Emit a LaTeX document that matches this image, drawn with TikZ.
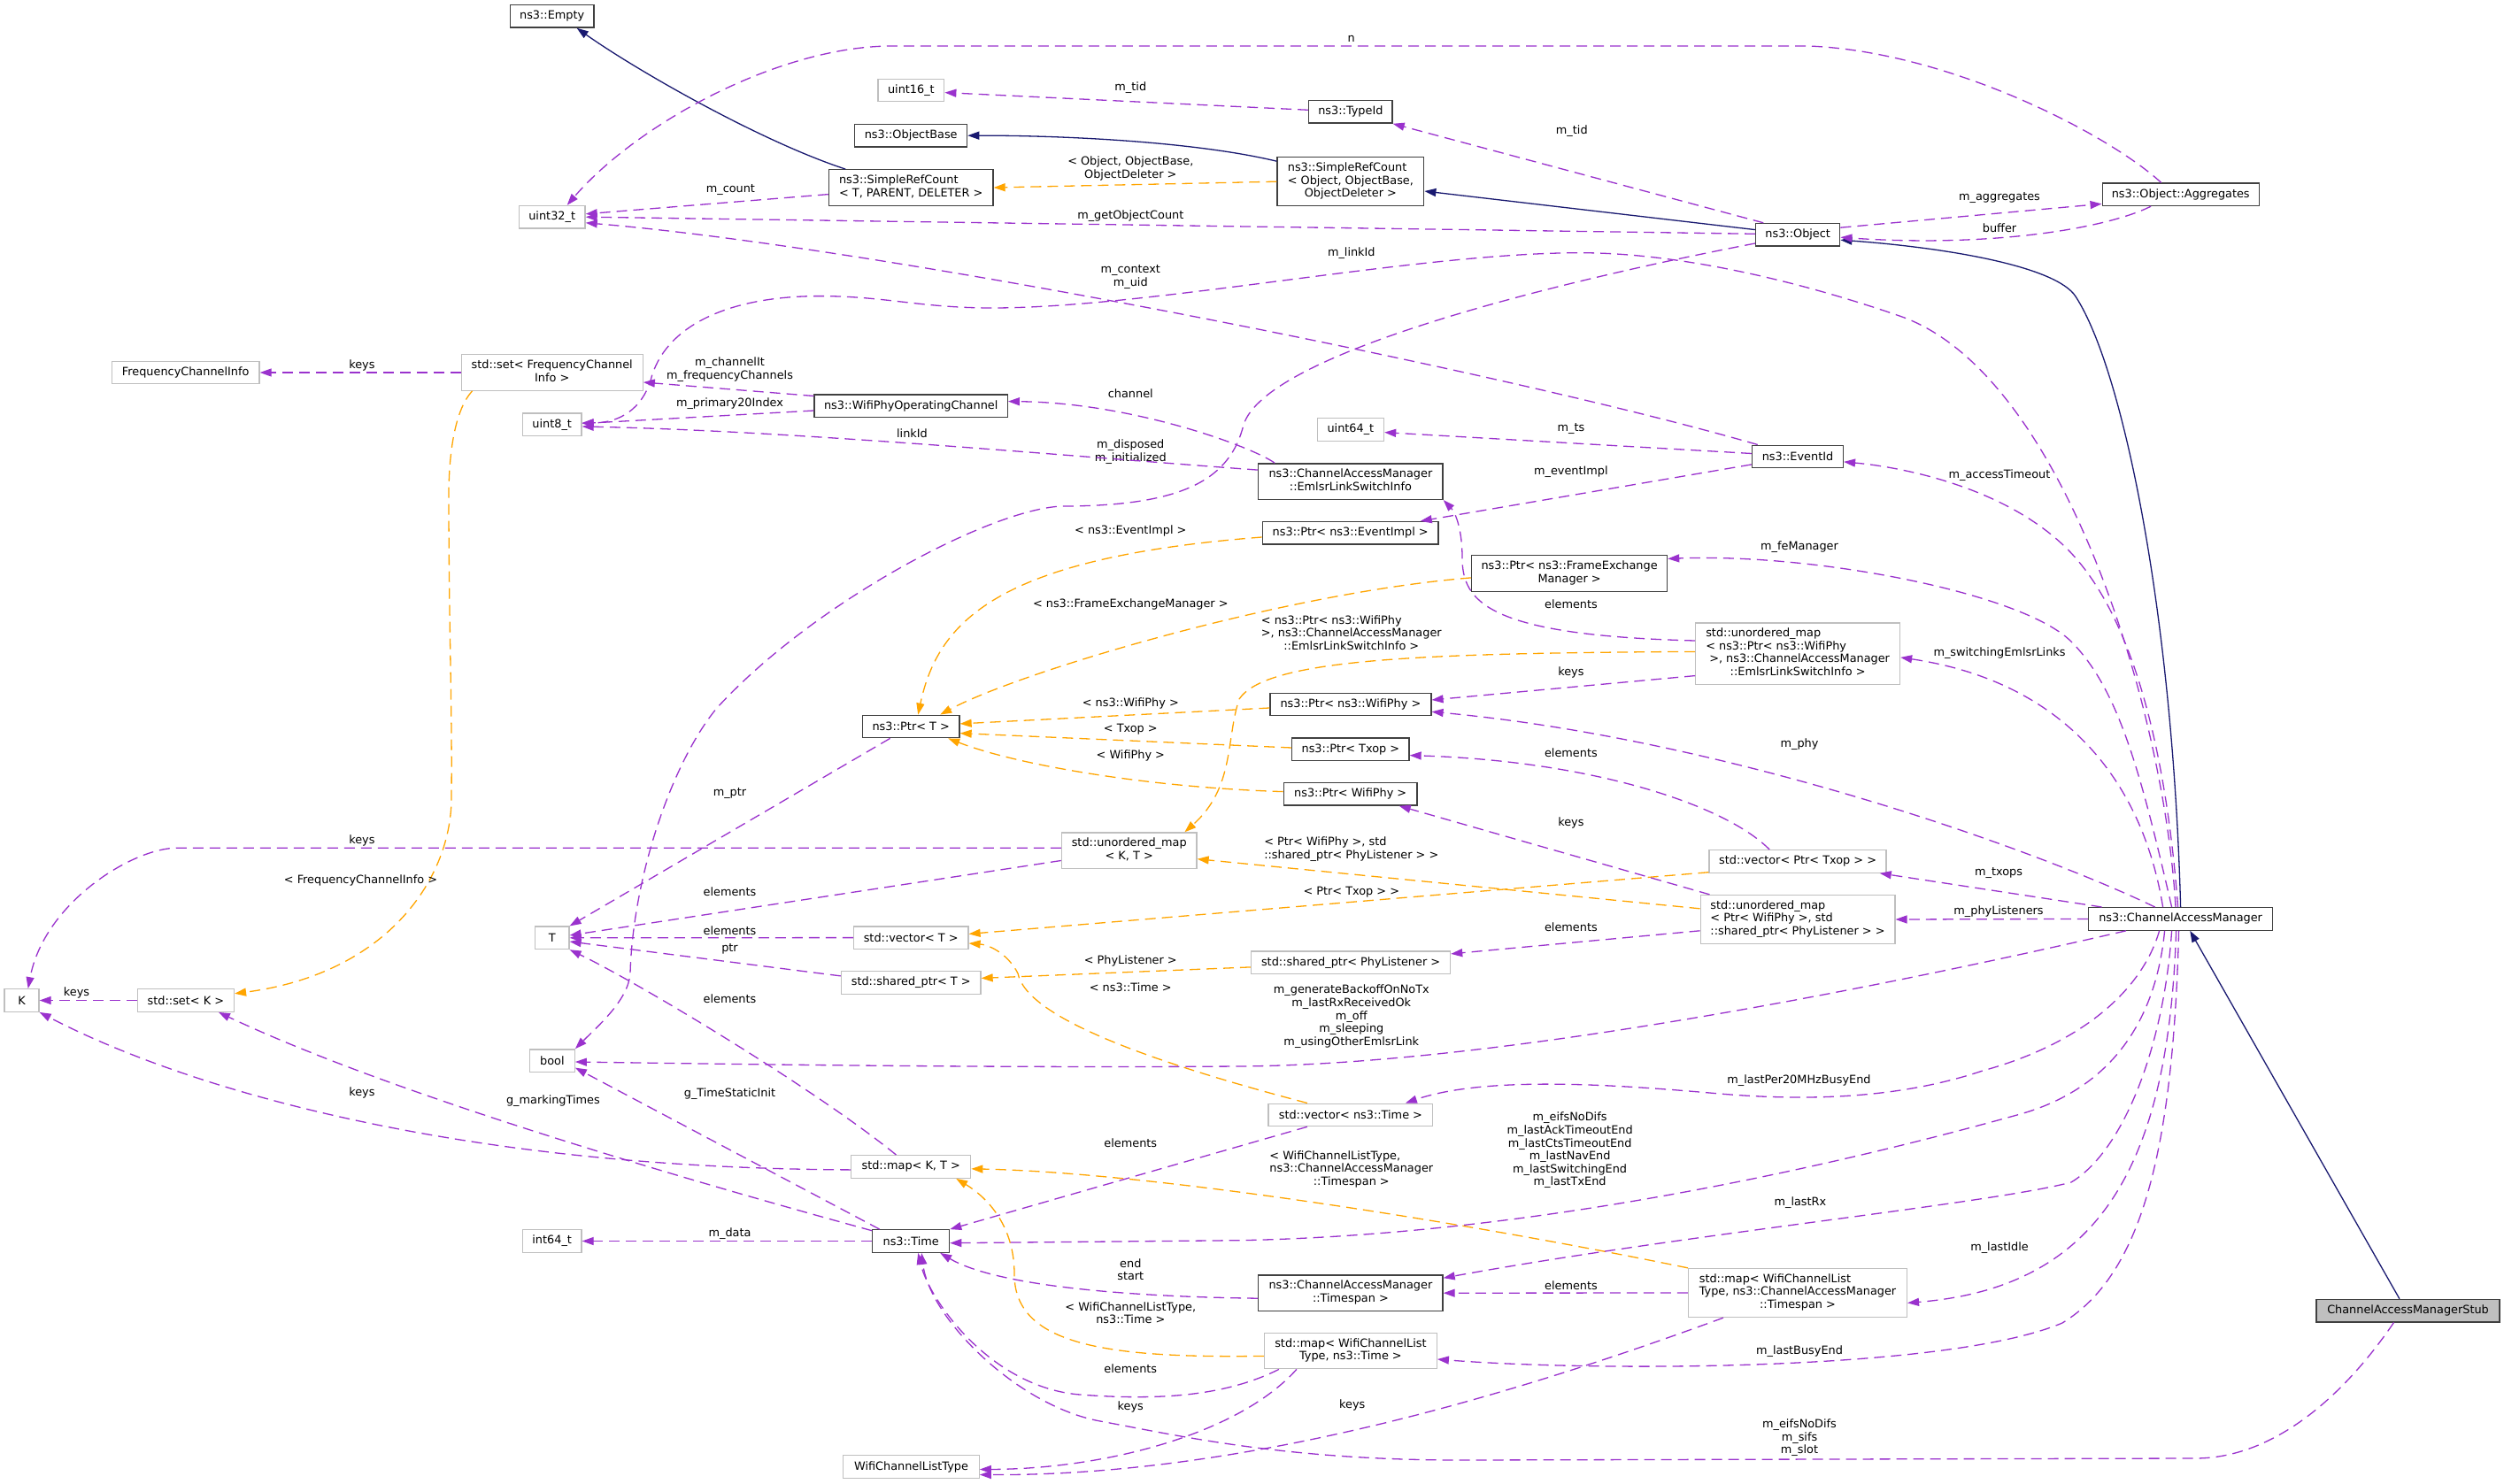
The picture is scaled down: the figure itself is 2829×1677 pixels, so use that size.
\documentclass[tikz,border=0pt]{standalone}
\usepackage{fontspec}
\setmainfont{DejaVu Sans}
\usetikzlibrary{arrows.meta}
\definecolor{purp}{HTML}{9A32CD}
\definecolor{orng}{HTML}{FFA500}
\definecolor{navyc}{HTML}{191970}
\definecolor{boxdark}{HTML}{404040}
\definecolor{boxlight}{HTML}{BFBFBF}
\newcommand\dvf{\fontsize{12.85pt}{14.6pt}\selectfont}
\newcommand\mylines[2]{\begin{tabular}{@{}l@{}}#1\\\multicolumn{1}{@{}c@{}}{#2}\end{tabular}}
\tikzset{
  gbox/.style={draw=boxlight, line width=1.3pt, fill=white, inner sep=0pt, minimum height=25.5pt, font=\dvf, text=black},
  dbox/.style={gbox, draw=boxdark},
  stubbox/.style={gbox, draw=boxdark, fill=boxlight},
  lab/.style={font=\dvf, inner sep=0pt, align=center, text=black},
  pe/.style={draw=purp, line width=1.3pt, dash pattern=on 12pt off 7pt, -{Triangle[length=13pt,width=9pt]}},
  oe/.style={pe, draw=orng},
  ne/.style={draw=navyc, line width=1.3pt, -{Triangle[length=13pt,width=9pt]}}
}
\begin{document}
\begin{tikzpicture}[x=1pt,y=-1pt]
\fill[white] (0,0) rectangle (2829,1677);
\path[use as bounding box] (0,0) rectangle (2829,1677);
% nodes
\node[dbox, minimum width=94.6pt] (Empty) at (623.7,18.4) {ns3::Empty};
\node[gbox, minimum width=74.7pt] (u32) at (623.7,245.2) {uint32\_t};
\node[gbox, minimum width=166.7pt] (FCI) at (209.7,421) {FrequencyChannelInfo};
\node[gbox, minimum width=205pt, minimum height=40.5pt] (setFCI) at (623.7,421) {\mylines{std::set< FrequencyChannel}{Info >}};
\node[gbox, minimum width=66.6pt] (u8) at (623.7,479.8) {uint8\_t};
\node[gbox, minimum width=74.7pt] (u16) at (1029.4,102.1) {uint16\_t};
\node[dbox, minimum width=126.8pt] (ObjBase) at (1029.2,153.2) {ns3::ObjectBase};
\node[dbox, minimum width=185.6pt, minimum height=40.5pt] (SRC) at (1029.2,212) {\mylines{ns3::SimpleRefCount}{< T, PARENT, DELETER >}};
\node[dbox, minimum width=218.2pt] (WPOC) at (1029.2,458.8) {ns3::WifiPhyOperatingChannel};
\node[dbox, minimum width=94.2pt] (TypeId) at (1525.9,126.4) {ns3::TypeId};
\node[dbox, minimum width=165.7pt, minimum height=55pt] (SRCO) at (1525.9,205.2) {\mylines{ns3::SimpleRefCount\\< Object, ObjectBase,}{ObjectDeleter >}};
\node[dbox, minimum width=95.1pt] (Object) at (2031.2,265.2) {ns3::Object};
\node[gbox, minimum width=75.2pt] (u64) at (1525.9,485.4) {uint64\_t};
\node[dbox, minimum width=102.8pt] (EventId) at (2031,515.9) {ns3::EventId};
\node[dbox, minimum width=208.3pt, minimum height=40.5pt] (ELSI) at (1525.9,544.1) {\mylines{ns3::ChannelAccessManager}{::EmlsrLinkSwitchInfo}};
\node[dbox, minimum width=177.1pt] (Aggr) at (2463.7,219.8) {ns3::Object::Aggregates};
\node[dbox, minimum width=109.6pt] (PtrT) at (1029.2,821) {ns3::Ptr< T >};
\node[gbox, minimum width=152.6pt, minimum height=40.5pt] (umapKT) at (1275.7,961.2) {\mylines{std::unordered\_map}{< K, T >}};
\node[gbox, minimum width=129.5pt] (vecT) at (1029.2,1059.6) {std::vector< T >};
\node[gbox, minimum width=157.6pt] (sptrT) at (1029.2,1110.4) {std::shared\_ptr< T >};
\node[dbox, minimum width=198.8pt] (PtrEI) at (1525.7,602.3) {ns3::Ptr< ns3::EventImpl >};
\node[dbox, minimum width=221pt, minimum height=40.5pt] (PtrFEM) at (1773.1,647.9) {\mylines{ns3::Ptr< ns3::FrameExchange}{Manager >}};
\node[gbox, minimum width=230.8pt, minimum height=69.3pt] (umapE) at (2031.1,738.6) {\mylines{std::unordered\_map\\< ns3::Ptr< ns3::WifiPhy\\\hspace*{4pt}>, ns3::ChannelAccessManager}{::EmlsrLinkSwitchInfo >}};
\node[dbox, minimum width=182pt] (PtrWP) at (1525.9,795.9) {ns3::Ptr< ns3::WifiPhy >};
\node[dbox, minimum width=132.2pt] (PtrTx) at (1525.9,846.6) {ns3::Ptr< Txop >};
\node[dbox, minimum width=150.8pt] (PtrWifi) at (1525.7,897.3) {ns3::Ptr< WifiPhy >};
\node[gbox, minimum width=200pt] (vecPTx) at (2031.1,973.4) {std::vector< Ptr< Txop > >};
\node[gbox, minimum width=219.7pt, minimum height=55pt] (umapPL) at (2031,1039) {\mylines{std::unordered\_map\\< Ptr< WifiPhy >, std}{::shared\_ptr< PhyListener > >}};
\node[gbox, minimum width=225pt] (sptrPL) at (1526.1,1087.7) {std::shared\_ptr< PhyListener >};
\node[dbox, minimum width=208.3pt] (CAM) at (2463.6,1038.4) {ns3::ChannelAccessManager};
\node[gbox, minimum width=38.5pt] (T) at (623.7,1059.8) {T};
\node[gbox, minimum width=39pt] (K) at (24.5,1130.5) {K};
\node[gbox, minimum width=109.1pt] (setK) at (209.9,1130.5) {std::set< K >};
\node[gbox, minimum width=50.7pt] (bool) at (623.9,1198.6) {bool};
\node[gbox, minimum width=66.6pt] (int64) at (623.7,1402.5) {int64\_t};
\node[gbox, minimum width=135pt] (mapKT) at (1029.2,1318.4) {std::map< K, T >};
\node[dbox, minimum width=86.9pt] (Time) at (1029.2,1402.5) {ns3::Time};
\node[gbox, minimum width=153.5pt] (WCLT) at (1029.5,1657.5) {WifiChannelListType};
\node[gbox, minimum width=185.6pt] (vecTime) at (1525.9,1259.9) {std::vector< ns3::Time >};
\node[dbox, minimum width=208.3pt, minimum height=40.5pt] (Timespan) at (1525.9,1461.2) {\mylines{ns3::ChannelAccessManager}{::Timespan >}};
\node[gbox, minimum width=194.7pt, minimum height=40.5pt] (mapWT) at (1525.9,1526.5) {\mylines{std::map< WifiChannelList}{Type, ns3::Time >}};
\node[gbox, minimum width=246.8pt, minimum height=55pt] (mapWTS) at (2031,1461) {\mylines{std::map< WifiChannelList\\Type, ns3::ChannelAccessManager}{::Timespan >}};
\node[stubbox, minimum width=206.9pt] (Stub) at (2720.5,1481.1) {ChannelAccessManagerStub};

% inheritance
\draw[ne] ([xshift=-74pt]SRC.north) .. controls (860,160) and (720,80) .. ([xshift=28pt]Empty.south);
\draw[ne] ([yshift=23pt]SRCO.west) .. controls (1350,160) and (1200,153) .. (ObjBase.east);
\draw[ne] ([yshift=5.6pt]Object.west) -- ([yshift=-10.8pt]SRCO.east);
\draw[ne] (CAM.north) .. controls (2455,700) and (2400,420) .. (2345,335) .. controls (2323,301) and (2200,280) .. ([yshift=-6pt]Object.east);
\draw[ne] ([xshift=-9.6pt]Stub.north) -- ([xshift=10.6pt]CAM.south);

% template (orange)
\draw[oe] (SRCO.west) -- (SRC.east);
\node[lab] (l1) at (1277.3,191) {\mylines{< Object, ObjectBase,}{ObjectDeleter >}};
\draw[oe] ([xshift=13pt]setFCI.south west) .. controls (512,465) and (507,520) .. (507,560) .. controls (507,700) and (511,800) .. (510,900) .. controls (511,990) and (440,1100) .. ([yshift=7.7pt]setK.east);
\node[lab] (l2) at (407.5,994.6) {< FrequencyChannelInfo >};
\draw[oe] ([yshift=-4.7pt]PtrEI.west) .. controls (1130,630) and (1060,700) .. ([xshift=8pt]PtrT.north);
\node[lab] (l3) at (1277.3,600) {< ns3::EventImpl >};
\draw[oe] ([yshift=-5pt]PtrFEM.west) .. controls (1450,670) and (1150,760) .. ([xshift=33pt]PtrT.north);
\node[lab] (l4) at (1277.3,683.2) {< ns3::FrameExchangeManager >};
\draw[oe] ([yshift=2.2pt]umapE.west) .. controls (1600,738) and (1430,745) .. (1400,790) .. controls (1385,835) and (1395,890) .. ([xshift=62.7pt]umapKT.north);
\node[lab] (l5) at (1526.8,717) {\mylines{< ns3::Ptr< ns3::WifiPhy\\>, ns3::ChannelAccessManager}{::EmlsrLinkSwitchInfo >}};
\draw[oe] ([yshift=-4.1pt]PtrWP.west) -- ([yshift=3.1pt]PtrT.east);
\node[lab] (l6) at (1277.3,794.6) {< ns3::WifiPhy >};
\draw[oe] ([yshift=1.6pt]PtrTx.west) -- ([yshift=-7.6pt]PtrT.east);
\node[lab] (l7) at (1277.3,824.3) {< Txop >};
\draw[oe] ([yshift=2.7pt]PtrWifi.west) .. controls (1300,890) and (1150,865) .. ([xshift=42pt]PtrT.south);
\node[lab] (l8) at (1277.3,854.3) {< WifiPhy >};
\draw[oe] ([yshift=12.2pt]umapPL.west) -- ([yshift=-9.5pt]umapKT.east);
\node[lab] (l9) at (1526.8,959.8) {\mylines{< Ptr< WifiPhy >, std}{::shared\_ptr< PhyListener > >}};
\draw[oe] ([yshift=-12.3pt]vecPTx.west) -- ([yshift=4.2pt]vecT.east);
\node[lab] (l10) at (1526.8,1008.2) {< Ptr< Txop > >};
\draw[oe] ([yshift=-5.2pt]sptrPL.west) -- ([yshift=5pt]sptrT.east);
\node[lab] (l11) at (1277.3,1086.4) {< PhyListener >};
\draw[oe] ([xshift=-49pt]vecTime.north) .. controls (1300,1200) and (1160,1150) .. (1150,1100) .. controls (1140,1080) and (1120,1068) .. ([yshift=-6.4pt]vecT.east);
\node[lab] (l12) at (1277.3,1115.5) {< ns3::Time >};
\draw[oe] (mapWTS.north west) .. controls (1650,1380) and (1300,1325) .. ([yshift=-2.4pt]mapKT.east);
\node[lab] (l13) at (1526.8,1322) {\mylines{< WifiChannelListType,\\ns3::ChannelAccessManager}{::Timespan >}};
\draw[oe] ([yshift=-5.9pt]mapWT.west) .. controls (1250,1535) and (1146,1520) .. (1146,1440) .. controls (1146,1380) and (1110,1350) .. ([xshift=51pt]mapKT.south);
\node[lab] (l14) at (1277.3,1485.5) {\mylines{< WifiChannelListType,}{ns3::Time >}};

% members (purple)
\draw[pe] ([xshift=-22pt]Aggr.north) .. controls (2380,150) and (2200,58) .. (2043,52) -- (1008,52) .. controls (880,52) and (720,140) .. ([xshift=17pt]u32.north);
\node[lab] (m1) at (1526.8,43.9) {n};
\draw[pe] ([yshift=-7.6pt]SRC.west) -- ([yshift=3.4pt]u32.east);
\node[lab] (m2) at (825.4,214.6) {m\_count};
\draw[pe] ([yshift=0.9pt]Object.west) -- (u32.east);
\node[lab] (m3) at (1277.3,243.9) {m\_getObjectCount};
\draw[pe] ([xshift=6.8pt]EventId.north west) .. controls (1700,420) and (1000,280) .. ([yshift=-6.6pt]u32.east);
\node[lab] (m4) at (1277.3,313) {m\_context\\m\_uid};
\draw[pe] ([xshift=-5.6pt]CAM.north) .. controls (2445,800) and (2330,420) .. (2146,357) .. controls (2036,319) and (1900,285.7) .. (1785,285.7) .. controls (1600,285.7) and (1300,348) .. (1121,348) .. controls (1040,348) and (1000,334.6) .. (926,334.6) .. controls (820,334.6) and (750,370) .. (735,430) .. controls (725,462) and (700,478) .. ([yshift=2pt]u8.east);
\node[lab] (m5) at (1526.8,285.7) {m\_linkId};
\draw[pe] ([xshift=-61.6pt]CAM.south) .. controls (2150,1110) and (1700,1203) .. (1400,1205) .. controls (1100,1207) and (800,1202) .. ([yshift=-1.4pt]bool.east);
\node[lab] (m6) at (1526.8,1148.7) {m\_generateBackoffOnNoTx\\m\_lastRxReceivedOk\\m\_off\\m\_sleeping\\m\_usingOtherEmlsrLink};
\draw[pe] ([yshift=-9.8pt]Object.west) .. controls (1750,320) and (1430,400) .. (1405,480) .. controls (1390,540) and (1340,572) .. (1200,572) .. controls (1120,575) and (920,680) .. (810,800) .. controls (760,860) and (715,990) .. (712,1100) .. controls (710,1130) and (675,1160) .. (bool.north east);
\node[lab] (m7) at (1277.3,510.5) {m\_disposed\\m\_initialized};
\draw[pe] ([yshift=13pt]ELSI.west) .. controls (1200,515) and (900,487) .. ([yshift=-2.2pt]u8.east);
\node[lab] (m8) at (1030.5,489.3) {linkId};
\draw[pe] ([xshift=19pt]ELSI.north west) .. controls (1415,505) and (1280,455) .. ([yshift=5.2pt]WPOC.east);
\node[lab] (m9) at (1277.3,444.6) {channel};
\draw[pe] ([yshift=-5.2pt]WPOC.west) -- ([yshift=1.2pt]u8.east);
\node[lab] (m10) at (824.5,456.4) {m\_primary20Index};
\draw[pe] ([yshift=11.3pt]WPOC.west) -- ([yshift=-11pt]setFCI.east);
\node[lab] (m11) at (824.5,417.9) {m\_channelIt\\m\_frequencyChannels};
\draw[pe] (setFCI.west) -- (FCI.east);
\node[lab] (m12) at (408.9,412.5) {keys};
\draw[pe] ([yshift=3pt]umapKT.west) -- (200,958.2) .. controls (150,958.2) and (50,1020) .. ([xshift=7.2pt]K.north);
\node[lab] (m13) at (408.9,950) {keys};
\draw[pe] (setK.west) -- (K.east);
\node[lab] (m14) at (86.5,1122) {keys};
\draw[pe] ([yshift=-3.5pt]mapKT.west) .. controls (500,1320) and (200,1225) .. (K.south east);
\node[lab] (m15) at (408.9,1235.4) {keys};
\draw[pe] ([yshift=11.8pt]Time.west) .. controls (800,1340) and (450,1240) .. ([xshift=37pt]setK.south);
\node[lab] (m16) at (624.9,1244.6) {g\_markingTimes};
\draw[pe] ([xshift=8.6pt]Time.north west) -- ([yshift=-8pt]bool.east);
\node[lab] (m17) at (824.5,1236.5) {g\_TimeStaticInit};
\draw[pe] ([xshift=-16.8pt]mapKT.north) .. controls (920,1230) and (720,1110) .. (T.south east);
\node[lab] (m18) at (824.5,1128.7) {elements};
\draw[pe] ([yshift=-11.3pt]umapKT.west) -- ([yshift=2.8pt]T.east);
\node[lab] (m19) at (824.5,1008.2) {elements};
\draw[pe] ([xshift=-23.6pt]PtrT.south) -- (T.north east);
\node[lab] (m20) at (824.5,896.4) {m\_ptr};
\draw[pe] (vecT.west) -- (T.east);
\node[lab] (m21) at (824.5,1051.4) {elements};
\draw[pe] ([yshift=7.5pt]sptrT.west) -- ([yshift=-4.2pt]T.east);
\node[lab] (m22) at (824.5,1072) {ptr};
\draw[pe] (Time.west) -- (int64.east);
\node[lab] (m23) at (824.5,1394.4) {m\_data};
\draw[pe] ([xshift=-49pt]vecTime.south) -- (Time.north east);
\node[lab] (m24) at (1277.3,1291.4) {elements};
\draw[pe] ([xshift=-18pt]CAM.south) .. controls (2435,1160) and (2380,1230) .. (2286,1258) .. controls (2100,1310) and (1750,1395) .. (1400,1401.7) -- ([yshift=-2.2pt]Time.east);
\node[lab] (m25) at (1773.6,1300) {m\_eifsNoDifs\\m\_lastAckTimeoutEnd\\m\_lastCtsTimeoutEnd\\m\_lastNavEnd\\m\_lastSwitchingEnd\\m\_lastTxEnd};
\draw[pe] ([xshift=-24pt]CAM.south) .. controls (2420,1120) and (2350,1180) .. (2240,1210) .. controls (2150,1240) and (2050,1245) .. (1943,1236) .. controls (1830,1226) and (1680,1215) .. ([xshift=62pt]vecTime.north);
\node[lab] (m26) at (2032.5,1220.7) {m\_lastPer20MHzBusyEnd};
\draw[pe] ([xshift=-10pt]CAM.south) .. controls (2445,1180) and (2400,1300) .. (2340,1336) .. controls (2250,1360) and (1900,1395) .. ([yshift=17pt]Timespan.east);
\node[lab] (m27) at (2033.9,1359.4) {m\_lastRx};
\draw[pe] ([xshift=-5pt]CAM.south) .. controls (2450,1320) and (2370,1455) .. ([yshift=-11.4pt]mapWTS.east);
\node[lab] (m28) at (2259,1410.2) {m\_lastIdle};
\draw[pe] ([xshift=-2pt]CAM.south) .. controls (2455,1300) and (2420,1440) .. (2330,1495) .. controls (2200,1550) and (1800,1550) .. ([yshift=-9.5pt]mapWT.east);
\node[lab] (m29) at (2033,1527.6) {m\_lastBusyEnd};
\draw[pe] ([xshift=-16pt]Stub.south) .. controls (2660,1560) and (2580,1648) .. (2480,1648) -- (1650,1650) .. controls (1450,1650) and (1330,1622) .. (1243,1606) .. controls (1150,1589) and (1050,1490) .. ([xshift=12pt]Time.south);
\node[lab] (m30) at (2033,1625) {m\_eifsNoDifs\\m\_sifs\\m\_slot};
\draw[pe] ([xshift=17pt]mapWT.south west) .. controls (1380,1580) and (1300,1582) .. (1220,1576) .. controls (1120,1568) and (1050,1470) .. ([xshift=8pt]Time.south);
\node[lab] (m31) at (1277.3,1547) {elements};
\draw[pe] ([xshift=37pt]mapWT.south west) .. controls (1400,1620) and (1250,1660) .. ([yshift=-3pt]WCLT.east);
\node[lab] (m32) at (1277.3,1590) {keys};
\draw[pe] ([xshift=40pt]mapWTS.south west) .. controls (1700,1580) and (1400,1668) .. ([yshift=-9pt]WCLT.east);
\node[lab] (m33) at (1527.7,1587.6) {keys};
\draw[pe] ([yshift=-6pt]Timespan.west) .. controls (1250,1465) and (1120,1450) .. ([xshift=33pt]Time.south);
\node[lab] (m34) at (1277.3,1434.5) {end\\start};
\draw[pe] (mapWTS.west) -- (Timespan.east);
\node[lab] (m35) at (1775,1452.5) {elements};
\draw[pe] ([yshift=8pt]Object.east) -- ([yshift=-10.6pt]Aggr.west);
\node[lab] (m36) at (2259,223.6) {m\_aggregates};
\draw[pe] ([xshift=-33.7pt]Aggr.south) .. controls (2380,258) and (2250,280) .. ([yshift=-3pt]Object.east);
\node[lab] (m37) at (2259,258.2) {buffer};
\draw[pe] ([xshift=9.3pt]Object.north west) -- (TypeId.south east);
\node[lab] (m38) at (1775.8,148.2) {m\_tid};
\draw[pe] ([yshift=2.1pt]TypeId.west) -- ([yshift=-2.5pt]u16.east);
\node[lab] (m39) at (1277.3,99.3) {m\_tid};
\draw[pe] ([yshift=3.4pt]EventId.west) -- ([yshift=-3.2pt]u64.east);
\node[lab] (m40) at (1774.9,484.6) {m\_ts};
\draw[pe] ([yshift=-9pt]EventId.west) -- ([xshift=-21pt]PtrEI.north east);
\node[lab] (m41) at (1774.9,532.9) {m\_eventImpl};
\draw[pe] ([xshift=-3pt]CAM.north) .. controls (2445,820) and (2400,680) .. (2330,615) .. controls (2260,550) and (2150,528) .. ([yshift=-6pt]EventId.east);
\node[lab] (m42) at (2259,536.8) {m\_accessTimeout};
\draw[pe] ([xshift=-10pt]CAM.north) .. controls (2420,880) and (2395,780) .. (2340,725) .. controls (2285,670) and (2050,625) .. ([yshift=16.5pt]PtrFEM.east);
\node[lab] (m43) at (2033,618.6) {m\_feManager};
\draw[pe] ([xshift=-20pt]CAM.north) .. controls (2420,880) and (2330,770) .. ([yshift=-4.3pt]umapE.east);
\node[lab] (m44) at (2259,738.2) {m\_switchingEmlsrLinks};
\draw[pe] ([xshift=-29pt]CAM.north) .. controls (2300,960) and (1950,835) .. ([yshift=-8.4pt]PtrWP.east);
\node[lab] (m45) at (2033,841) {m\_phy};
\draw[pe] ([xshift=-89pt]CAM.north) -- ([xshift=-8pt]vecPTx.south east);
\node[lab] (m46) at (2258,986.4) {m\_txops};
\draw[pe] (CAM.west) -- (umapPL.east);
\node[lab] (m47) at (2258,1030.3) {m\_phyListeners};
\draw[pe] ([xshift=-32pt]vecPTx.north) .. controls (1950,910) and (1800,860) .. ([yshift=-7pt]PtrTx.east);
\node[lab] (m48) at (1774.9,851) {elements};
\draw[pe] ([xshift=11pt]umapPL.north west) -- ([xshift=55pt]PtrWifi.south);
\node[lab] (m49) at (1774.9,930.4) {keys};
\draw[pe] ([yshift=-12.8pt]umapPL.west) -- ([yshift=9.8pt]sptrPL.east);
\node[lab] (m50) at (1774.9,1047.5) {elements};
\draw[pe] ([yshift=-25pt]umapE.west) -- ([yshift=4.9pt]PtrWP.east);
\node[lab] (m51) at (1774.9,759.6) {keys};
\draw[pe] ([yshift=14.6pt]umapE.west) .. controls (1680,718) and (1652,680) .. (1652,630) .. controls (1652,600) and (1645,580) .. (ELSI.south east);
\node[lab] (m52) at (1775,683.2) {elements};
\end{tikzpicture}
\end{document}
